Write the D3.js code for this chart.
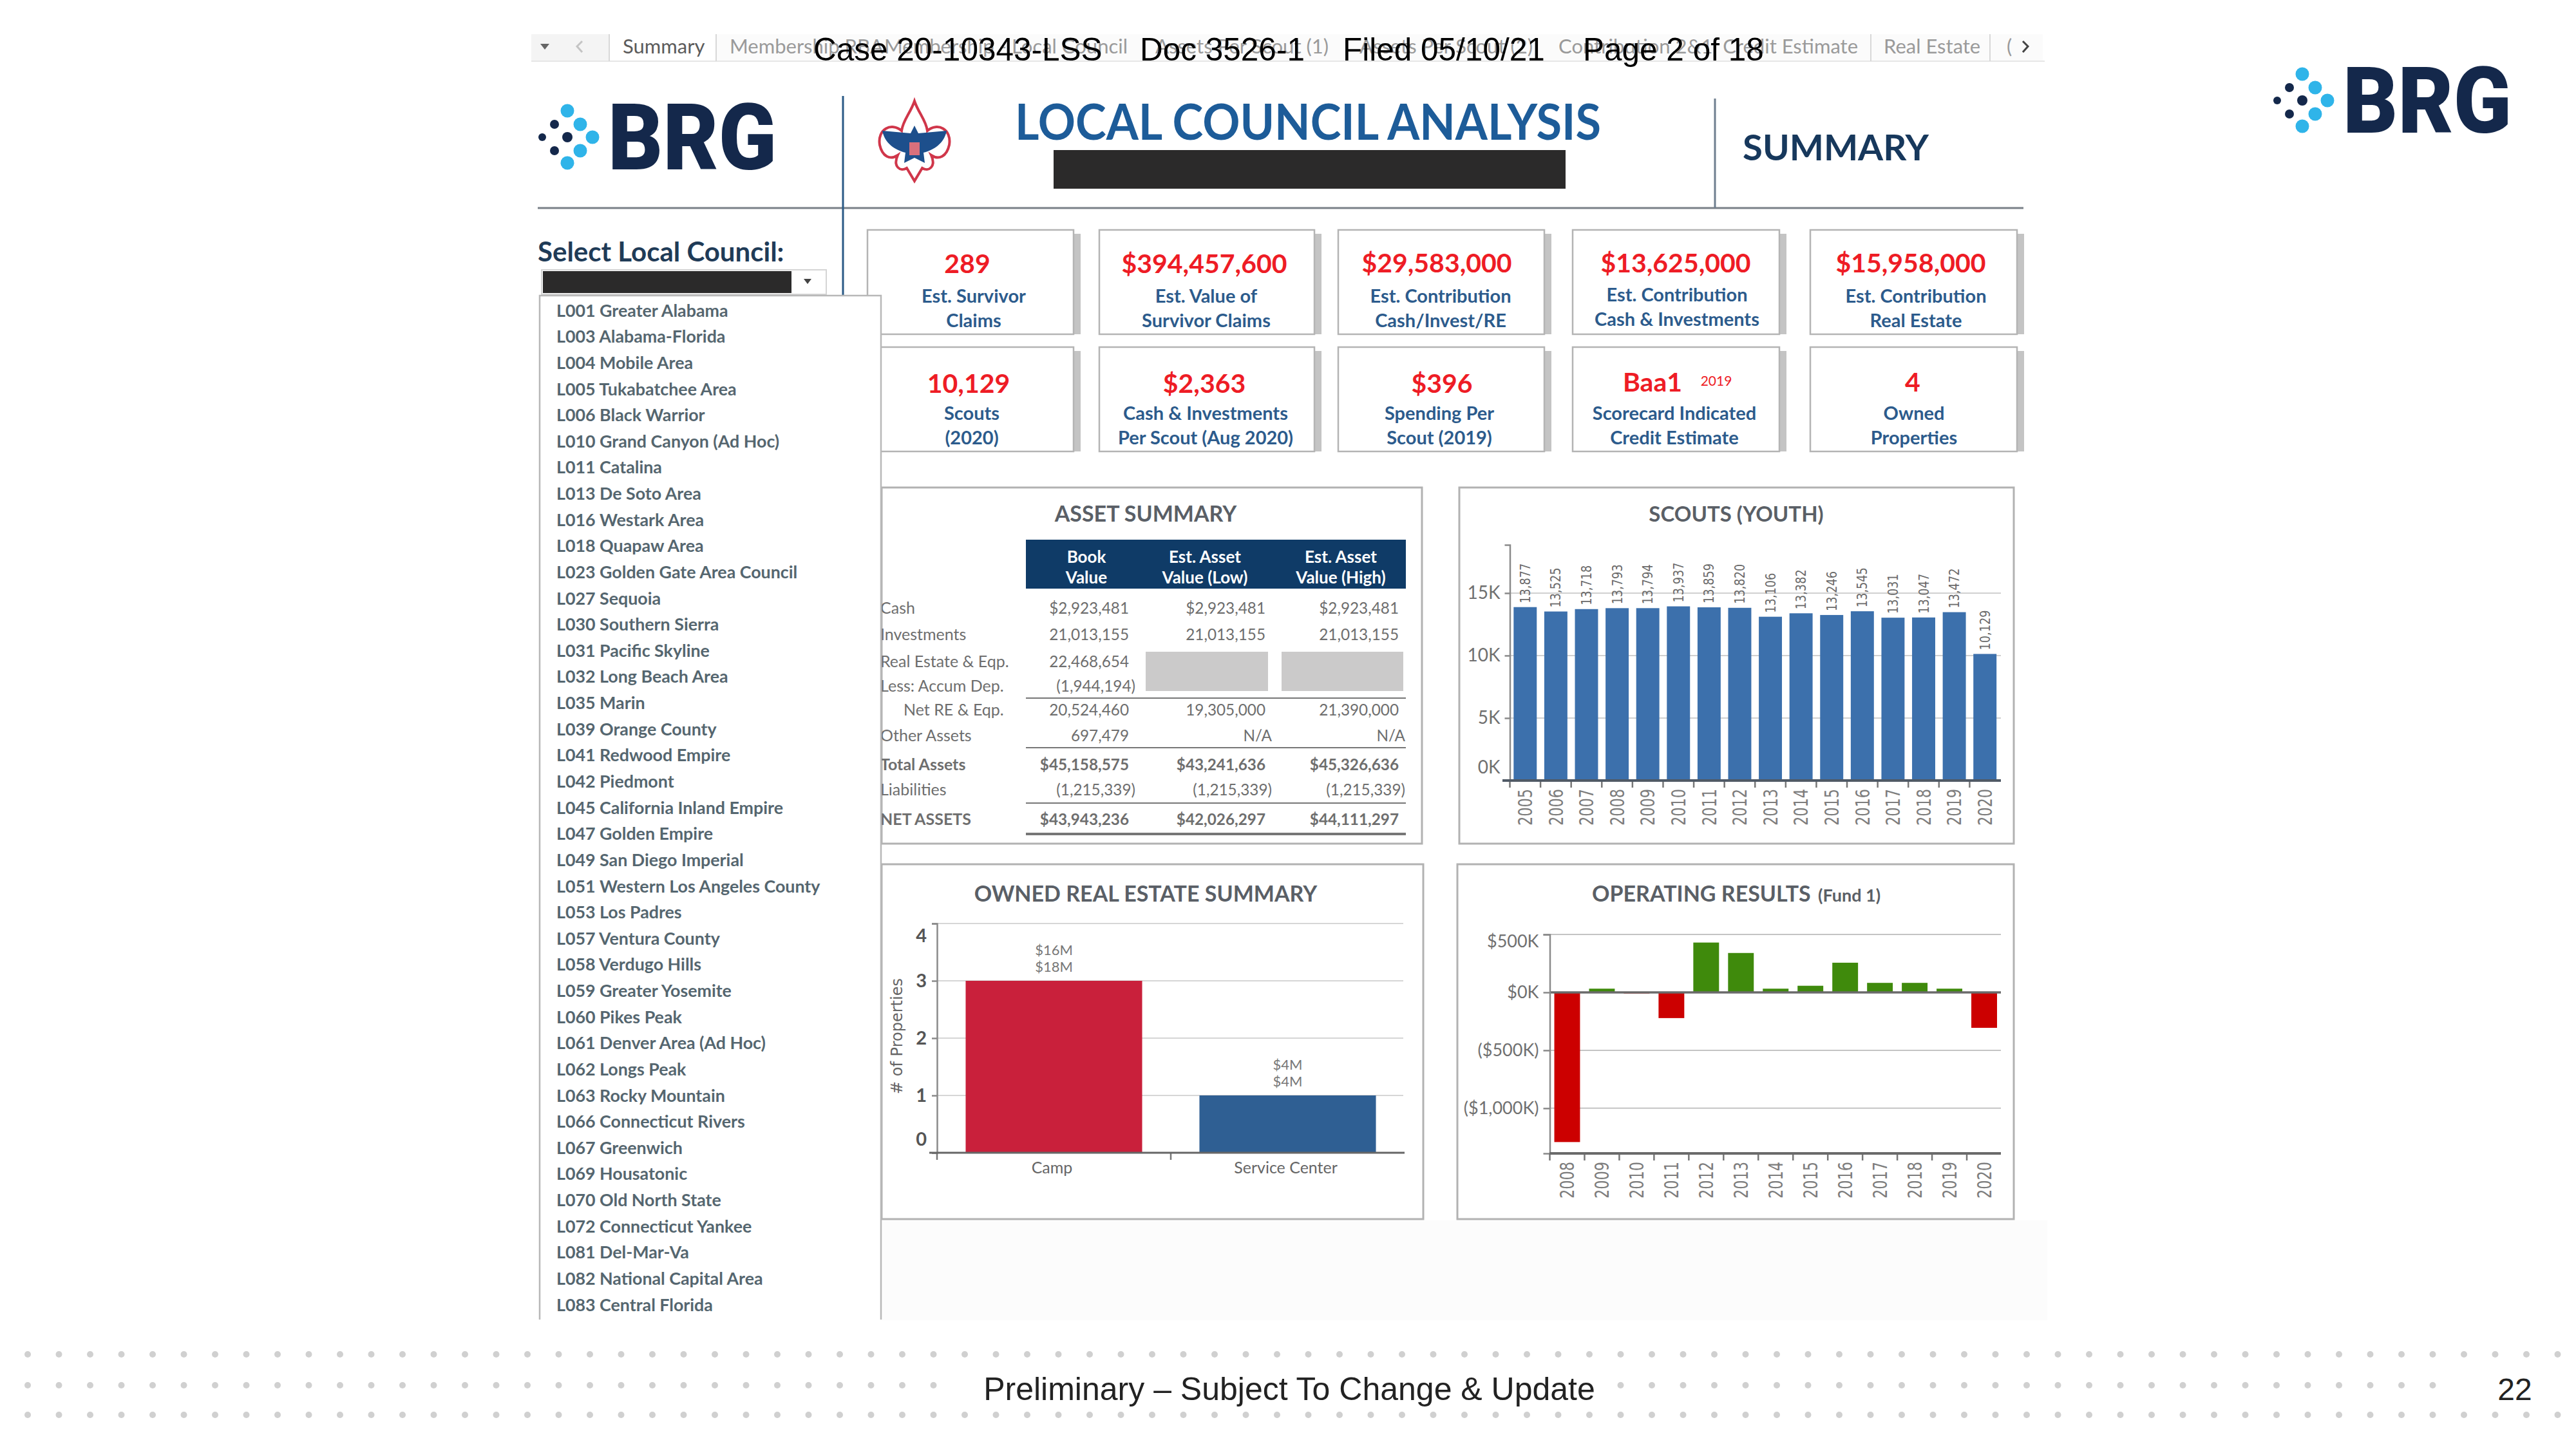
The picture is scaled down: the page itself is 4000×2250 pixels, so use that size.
<!DOCTYPE html>
<html>
<head>
<meta charset="utf-8">
<script src="https://cdn.jsdelivr.net/npm/d3@7"></script>
<style>
  html, body { margin: 0; padding: 0; background: #fff; }
  svg { display: block; }
  text { font-family: Lato, "Open Sans", sans-serif; }
</style>
</head>
<body>
<script>
// ---- data ----
var councils = ["L001 Greater Alabama", "L003 Alabama-Florida", "L004 Mobile Area", "L005 Tukabatchee Area",
  "L006 Black Warrior", "L010 Grand Canyon (Ad Hoc)", "L011 Catalina", "L013 De Soto Area", "L016 Westark Area",
  "L018 Quapaw Area", "L023 Golden Gate Area Council", "L027 Sequoia", "L030 Southern Sierra", "L031 Pacific Skyline",
  "L032 Long Beach Area", "L035 Marin", "L039 Orange County", "L041 Redwood Empire", "L042 Piedmont",
  "L045 California Inland Empire", "L047 Golden Empire", "L049 San Diego Imperial", "L051 Western Los Angeles County",
  "L053 Los Padres", "L057 Ventura County", "L058 Verdugo Hills", "L059 Greater Yosemite", "L060 Pikes Peak",
  "L061 Denver Area (Ad Hoc)", "L062 Longs Peak", "L063 Rocky Mountain", "L066 Connecticut Rivers", "L067 Greenwich",
  "L069 Housatonic", "L070 Old North State", "L072 Connecticut Yankee", "L081 Del-Mar-Va", "L082 National Capital Area",
  "L083 Central Florida"];

var kpiValues = ["289", "$394,457,600", "$29,583,000", "$13,625,000", "$15,958,000",
  "10,129", "$2,363", "$396", "Baa1", "4"];
var kpiLine1 = ["Est. Survivor", "Est. Value of", "Est. Contribution", "Est. Contribution", "Est. Contribution",
  "Scouts", "Cash & Investments", "Spending Per", "Scorecard Indicated", "Owned"];
var kpiLine2 = ["Claims", "Survivor Claims", "Cash/Invest/RE", "Cash & Investments", "Real Estate",
  "(2020)", "Per Scout (Aug 2020)", "Scout (2019)", "Credit Estimate", "Properties"];

var assetLabels = ["Cash", "Investments", "Real Estate & Eqp.", "Less: Accum Dep.", "Net RE & Eqp.",
  "Other Assets", "Total Assets", "Liabilities", "NET ASSETS"];
var assetBook = ["$2,923,481", "21,013,155", "22,468,654", "(1,944,194)", "20,524,460", "697,479",
  "$45,158,575", "(1,215,339)", "$43,943,236"];
var assetLow = ["$2,923,481", "21,013,155", "", "", "19,305,000", "N/A", "$43,241,636", "(1,215,339)", "$42,026,297"];
var assetHigh = ["$2,923,481", "21,013,155", "", "", "21,390,000", "N/A", "$45,326,636", "(1,215,339)", "$44,111,297"];

var scoutYears = ["2005", "2006", "2007", "2008", "2009", "2010", "2011", "2012", "2013", "2014", "2015", "2016",
  "2017", "2018", "2019", "2020"];
var scoutValues = [13877, 13525, 13718, 13793, 13794, 13937, 13859, 13820, 13106, 13382, 13246, 13545, 13031,
  13047, 13472, 10129];
var scoutTicks = [0, 5000, 10000, 15000];

var propertyTypes = ["Camp", "Service Center"];
var propertyCounts = [3, 1];
var propertyLow = ["$16M", "$4M"];
var propertyHigh = ["$18M", "$4M"];
var propertyTicks = [0, 1, 2, 3, 4];

var opYears = ["2008", "2009", "2010", "2011", "2012", "2013", "2014", "2015", "2016", "2017", "2018", "2019", "2020"];
var opValues = [-1292, 32, -10, -222, 430, 340, 32, 57, 256, 82, 82, 32, -306];
var opTicks = [-1000, -500, 0, 500];

// ---- colours ----
var red = "#ee1c25", labelBlue = "#2c5b8c", navy = "#14284b", cyan = "#2fb4e9", greyText = "#6e6e6e",
    titleGrey = "#5a5f66", panelLine = "#b2b2b2";

var svg = d3.select("body").append("svg")
  .attr("width", 4000)
  .attr("height", 2250)
  .attr("viewBox", "0 0 4000 2250");

svg.append("rect").attr("width", 4000).attr("height", 2250).attr("fill", "#fff");

function label(g, x, y, str, size, color, weight, anchor) {
  return g.append("text")
    .attr("x", x).attr("y", y)
    .attr("font-size", size)
    .attr("fill", color)
    .attr("font-weight", weight || 400)
    .attr("text-anchor", anchor || "middle")
    .text(str);
}

// ---- footer dot rows ----
var footerDots = d3.range(43, 3985, 48.5);
[2103, 2151, 2197].forEach(function(y) {
  svg.append("g").selectAll("circle").data(footerDots).join("circle")
    .attr("cx", function(d) { return d; })
    .attr("cy", y)
    .attr("r", 5)
    .attr("fill", "#d0d0d0");
});
svg.append("rect").attr("x", 1480).attr("y", 2125).attr("width", 1010).attr("height", 60).attr("fill", "#fff");
svg.append("rect").attr("x", 3815).attr("y", 2125).attr("width", 185).attr("height", 60).attr("fill", "#fff");
label(svg, 2002, 2174, "Preliminary \u2013 Subject To Change & Update", 50, "#222", 400)
  .style("font-family", "'Liberation Sans'");
label(svg, 3905, 2174, "22", 48, "#222", 400).style("font-family", "'Liberation Sans'");

// ---- logos ----
function logo(dx, dy) {
  var g = svg.append("g").attr("transform", "translate(" + dx + "," + dy + ")");
  var dots = [[0, 0, 10.5, cyan], [20, 21, 10.5, cyan], [39, 41, 10.5, cyan], [20, 62, 10.5, cyan], [0, 81, 10.5, cyan],
    [-20, 21, 7, navy], [0, 41, 8, navy], [-20, 62, 7, navy], [-39, 41, 6, navy]];
  g.selectAll("circle").data(dots).join("circle")
    .attr("cx", function(d) { return d[0]; })
    .attr("cy", function(d) { return d[1]; })
    .attr("r", function(d) { return d[2]; })
    .attr("fill", function(d) { return d[3]; });
  g.append("text").attr("x", 63).attr("y", 91)
    .attr("font-size", 142).attr("font-weight", 900)
    .attr("fill", navy)
    .attr("textLength", 262).attr("lengthAdjust", "spacingAndGlyphs")
    .style("font-family", "Roboto")
    .text("BRG");
}
logo(3575, 115);
logo(881, 172);

// ---- tab strip ----
var tabs = svg.append("g");
tabs.append("rect").attr("x", 825).attr("y", 53).attr("width", 120).attr("height", 42).attr("fill", "#f4f4f4");
tabs.append("rect").attr("x", 1112).attr("y", 53).attr("width", 2060).attr("height", 42).attr("fill", "#fbfbfb");
tabs.append("line").attr("x1", 825).attr("x2", 3175).attr("y1", 95).attr("y2", 95).attr("stroke", "#e6e6e6").attr("stroke-width", 2);
[946, 1112, 2905, 3090].forEach(function(x) {
  tabs.append("line").attr("x1", x).attr("x2", x).attr("y1", 53).attr("y2", 95).attr("stroke", "#d8d8d8").attr("stroke-width", 2);
});
label(tabs, 967, 83, "Summary", 31, "#5c5c5c", 400, "start");
label(tabs, 1133, 83, "Membership RBA", 31, "#9a9a9a", 400, "start");
label(tabs, 1751, 83, "Membership - Local Council", 31, "#9a9a9a", 400, "end");
label(tabs, 2063, 83, "Assets Per Scout (1)", 31, "#9a9a9a", 400, "end");
label(tabs, 2380, 83, "Assets Per Scout (2)", 31, "#9a9a9a", 400, "end");
label(tabs, 2420, 83, "Contribution 2&1", 31, "#9a9a9a", 400, "start");
label(tabs, 2885, 83, "Credit Estimate", 31, "#9a9a9a", 400, "end");
label(tabs, 2925, 83, "Real Estate", 31, "#9a9a9a", 400, "start");
label(tabs, 3116, 83, "(", 31, "#9a9a9a", 400, "start");
tabs.append("path").attr("d", "M839,68 L853,68 L846,77 Z").attr("fill", "#666");
tabs.append("path").attr("d", "M904,64 L896,72 L904,81").attr("fill", "none").attr("stroke", "#c4c4c4").attr("stroke-width", 3);
tabs.append("path").attr("d", "M3141,64 L3149,72 L3141,81").attr("fill", "none").attr("stroke", "#444").attr("stroke-width", 3);

// ---- court stamp across the top ----
var stamp = ["Case 20-10343-LSS", "Doc 3526-1", "Filed 05/10/21", "Page 2 of 18"];
var stampX = [1263, 1770, 2085, 2458];
svg.append("g").selectAll("text").data(stamp).join("text")
  .attr("x", function(d, i) { return stampX[i]; })
  .attr("y", 94)
  .attr("font-size", 49.5)
  .attr("fill", "#000")
  .style("font-family", "'Liberation Sans'")
  .text(function(d) { return d; });

// ---- header ----
svg.append("line").attr("x1", 835).attr("x2", 3142).attr("y1", 323).attr("y2", 323).attr("stroke", "#7a8088").attr("stroke-width", 3);
svg.append("line").attr("x1", 1309).attr("x2", 1309).attr("y1", 149).attr("y2", 460).attr("stroke", "#2b5a86").attr("stroke-width", 3);
svg.append("line").attr("x1", 2663).attr("x2", 2663).attr("y1", 153).attr("y2", 323).attr("stroke", "#6f7f8f").attr("stroke-width", 3);

svg.append("text").attr("x", 1576).attr("y", 217)
  .attr("font-size", 76).attr("font-weight", 700).attr("fill", "#1d5c99")
  .attr("textLength", 910).attr("lengthAdjust", "spacingAndGlyphs")
  .text("LOCAL COUNCIL ANALYSIS");
svg.append("rect").attr("x", 1636).attr("y", 233).attr("width", 795).attr("height", 60).attr("fill", "#2b2a2a");
svg.append("text").attr("x", 2706).attr("y", 249)
  .attr("font-size", 56).attr("font-weight", 700).attr("fill", "#17385c")
  .attr("textLength", 289).attr("lengthAdjust", "spacingAndGlyphs")
  .text("SUMMARY");

// scout emblem, simplified
var emblem = svg.append("g").attr("transform", "translate(1420,219)");
emblem.append("path")
  .attr("d", "M0,-62 C-6,-44 -18,-32 -20,-16 C-36,-30 -58,-18 -54,6 C-50,24 -38,30 -26,22 C-34,40 -22,48 -12,42 L0,62 L12,42 C22,48 34,40 26,22 C38,30 50,24 54,6 C58,-18 36,-30 20,-16 C18,-32 6,-44 0,-62 Z")
  .attr("fill", "#fff").attr("stroke", "#d0364a").attr("stroke-width", 4);
emblem.append("path")
  .attr("d", "M0,-24 L-6,-12 L-50,-16 C-46,4 -30,14 -14,18 L-16,34 L0,26 L16,34 L14,18 C30,14 46,4 50,-16 L6,-12 Z")
  .attr("fill", "#1d4f8c");
emblem.append("rect").attr("x", -8).attr("y", 2).attr("width", 16).attr("height", 20).attr("fill", "#d9707c");

// ---- KPI cards ----
var cardX = [1347, 1707, 2078, 2442, 2811, 1347, 1707, 2078, 2442, 2811];
var cardW = [320, 334, 320, 321, 321, 320, 334, 320, 321, 321];
var cardY = [357, 357, 357, 357, 357, 539, 539, 539, 539, 539];
var cardH = 162;
var valueX = [1502, 1870, 2231, 2602, 2967, 1504, 1870, 2239, 2566, 2970];
var textX = [1512, 1873, 2237, 2604, 2975, 1509, 1872, 2235, 2600, 2972];
var valueBase = [424, 424, 423, 423, 423, 610, 610, 610, 608, 608];
var line1Y = [470, 470, 470, 468, 470, 652, 652, 652, 652, 652];
var line2Y = [508, 508, 508, 506, 508, 690, 690, 690, 690, 690];

var cards = svg.append("g").selectAll("g").data(kpiValues).join("g");
cards.append("rect")
  .attr("x", function(d, i) { return cardX[i] + cardW[i]; })
  .attr("y", function(d, i) { return cardY[i] + 6; })
  .attr("width", 11).attr("height", cardH - 6).attr("fill", "#c4c4c4");
cards.append("rect")
  .attr("x", function(d, i) { return cardX[i]; })
  .attr("y", function(d, i) { return cardY[i]; })
  .attr("width", function(d, i) { return cardW[i]; })
  .attr("height", cardH)
  .attr("fill", "#fff").attr("stroke", "#b4b4b4").attr("stroke-width", 2.5);
cards.append("text")
  .attr("x", function(d, i) { return valueX[i]; })
  .attr("y", function(d, i) { return valueBase[i]; })
  .attr("text-anchor", "middle").attr("font-size", 41).attr("font-weight", 700).attr("fill", red)
  .text(function(d) { return d; });
cards.append("text")
  .attr("x", function(d, i) { return textX[i]; })
  .attr("y", function(d, i) { return line1Y[i]; })
  .attr("text-anchor", "middle").attr("font-size", 29).attr("font-weight", 700).attr("fill", labelBlue)
  .text(function(d, i) { return kpiLine1[i]; });
cards.append("text")
  .attr("x", function(d, i) { return textX[i]; })
  .attr("y", function(d, i) { return line2Y[i]; })
  .attr("text-anchor", "middle").attr("font-size", 29).attr("font-weight", 700).attr("fill", labelBlue)
  .text(function(d, i) { return kpiLine2[i]; });
label(svg, 2665, 599, "2019", 21, red, 400);

// ---- panels ----
function panel(x, y, w, h) {
  svg.append("rect").attr("x", x).attr("y", y).attr("width", w).attr("height", h)
    .attr("fill", "#fff").attr("stroke", panelLine).attr("stroke-width", 3);
}
svg.append("rect").attr("x", 1369).attr("y", 1895).attr("width", 1810).attr("height", 155).attr("fill", "#fcfcfc");
panel(1369, 757, 839, 553);
panel(2266, 757, 861, 553);
panel(1369, 1342, 841, 551);
panel(2263, 1342, 864, 551);

// ---- asset summary table ----
var assetG = svg.append("g");
label(assetG, 1779, 810, "ASSET SUMMARY", 34, titleGrey, 700);
assetG.append("rect").attr("x", 1593).attr("y", 838).attr("width", 590).attr("height", 76).attr("fill", "#0f3b67");
var headLine1 = ["Book", "Est. Asset", "Est. Asset"], headLine2 = ["Value", "Value (Low)", "Value (High)"];
var headX = [1687, 1871, 2082];
headLine1.forEach(function(h, i) {
  label(assetG, headX[i], 874, h, 26, "#fff", 700);
  label(assetG, headX[i], 906, headLine2[i], 26, "#fff", 700);
});
assetG.append("rect").attr("x", 1779).attr("y", 1012).attr("width", 190).attr("height", 61).attr("fill", "#cbcaca");
assetG.append("rect").attr("x", 1990).attr("y", 1012).attr("width", 189).attr("height", 61).attr("fill", "#cbcaca");

var assetRowY = [953, 994, 1036, 1074, 1111, 1151, 1196, 1235, 1281];
var assetColX = [1753, 1965, 2172];
var boldRows = ["Total Assets", "NET ASSETS"];
assetLabels.forEach(function(name, i) {
  var w = boldRows.indexOf(name) >= 0 ? 700 : 400;
  label(assetG, name == "Net RE & Eqp." ? 1403 : 1367, assetRowY[i], name, 25, greyText, w, "start");
  [assetBook, assetLow, assetHigh].forEach(function(col, j) {
    var v = col[i];
    var nudge = v.slice(-1) == ")" ? 10 : (v == "N/A" ? 10 : 0);
    label(assetG, assetColX[j] + nudge, assetRowY[i], v, 24.3, greyText, w, "end");
  });
});
[[1084, 2], [1161, 2], [1247, 2], [1295, 4]].forEach(function(l) {
  assetG.append("line").attr("x1", 1593).attr("x2", 2183).attr("y1", l[0]).attr("y2", l[0])
    .attr("stroke", "#777").attr("stroke-width", l[1]);
});

// ---- axis helpers ----
function styleAxis(g, size, color, weight) {
  g.selectAll(".domain").attr("stroke", "#8a8a8a").attr("stroke-width", 2.5);
  g.selectAll(".tick line").attr("stroke", "#8a8a8a").attr("stroke-width", 2.5);
  g.selectAll("text").attr("font-size", size).attr("fill", color).attr("font-weight", weight || 400)
    .style("font-family", "Lato");
}
function verticalYears(g) {
  g.selectAll(".domain").remove();
  g.selectAll(".tick line").remove();
  g.selectAll("text")
    .attr("x", -13).attr("y", 0).attr("dy", ".36em")
    .attr("transform", "rotate(-90)")
    .attr("text-anchor", "end")
    .attr("font-size", 30)
    .attr("fill", "#7d7d7d")
    .attr("textLength", 57).attr("lengthAdjust", "spacingAndGlyphs")
    .style("font-family", "'DejaVu Sans'");
}
function bandTicks(parent, scale, y) {
  var edges = scale.domain().map(function(d) { return scale(d) - scale.step() * scale.paddingInner() / 2; });
  parent.append("g").selectAll("line").data(edges).join("line")
    .attr("x1", function(d) { return d; }).attr("x2", function(d) { return d; })
    .attr("y1", y).attr("y2", y + 11)
    .attr("stroke", "#777").attr("stroke-width", 2.5);
}

// ---- scouts chart ----
var scoutG = svg.append("g");
label(scoutG, 2696, 810, "SCOUTS (YOUTH)", 33, titleGrey, 700);
var scoutX = d3.scaleBand().domain(scoutYears).range([2344.5, 3106]).paddingInner(0.245).paddingOuter(0.1225);
var scoutY = d3.scaleLinear().domain([0, 18860]).range([1212, 846]);
scoutTicks.slice(1).forEach(function(t) {
  scoutG.append("line").attr("x1", 2344).attr("x2", 3107).attr("y1", scoutY(t)).attr("y2", scoutY(t))
    .attr("stroke", "#d0d0d0").attr("stroke-width", 2);
});
scoutG.selectAll("rect.bar").data(scoutValues).join("rect")
  .attr("class", "bar")
  .attr("x", function(d, i) { return scoutX(scoutYears[i]); })
  .attr("y", function(d) { return scoutY(d); })
  .attr("width", scoutX.bandwidth())
  .attr("height", function(d) { return scoutY(0) - scoutY(d); })
  .attr("fill", "#3c70ac");
scoutG.selectAll("text.val").data(scoutValues).join("text")
  .attr("class", "val")
  .attr("transform", function(d, i) {
    return "translate(" + (scoutX(scoutYears[i]) + scoutX.bandwidth() / 2) + "," + (scoutY(d) - 6) + ") rotate(-90)";
  })
  .attr("dy", ".36em")
  .attr("font-size", 21)
  .attr("fill", "#6a6a6a")
  .attr("textLength", 62).attr("lengthAdjust", "spacingAndGlyphs")
  .style("font-family", "'DejaVu Sans'")
  .text(function(d) { return d3.format(",")(d); });
var scoutAxisY = scoutG.append("g").attr("transform", "translate(2344.5,0)")
  .call(d3.axisLeft(scoutY).tickValues(scoutTicks).tickSize(8).tickPadding(7).tickFormat(function(d) { return d / 1000 + "K"; }));
styleAxis(scoutAxisY, 28, "#707070");
scoutAxisY.selectAll("text").filter(function(d) { return d == 0; }).attr("y", -20);
scoutAxisY.selectAll(".tick line").filter(function(d) { return d == 0; }).remove();
var scoutAxisX = scoutG.append("g").attr("transform", "translate(0,1212)")
  .call(d3.axisBottom(scoutX).tickSize(0));
verticalYears(scoutAxisX);
bandTicks(scoutG, scoutX, 1212);
scoutG.append("line").attr("x1", 2333).attr("x2", 3107).attr("y1", 1212).attr("y2", 1212)
  .attr("stroke", "#505a66").attr("stroke-width", 4);

// ---- owned real estate chart ----
var propG = svg.append("g");
label(propG, 1779, 1400, "OWNED REAL ESTATE SUMMARY", 34, titleGrey, 700);
var propX = d3.scaleBand().domain(propertyTypes).range([1455, 2181]).paddingInner(0.245).paddingOuter(0.1225);
var propY = d3.scaleLinear().domain([0, 4]).range([1790, 1434]);
propertyTicks.slice(1).forEach(function(t) {
  propG.append("line").attr("x1", 1455).attr("x2", 2179).attr("y1", propY(t)).attr("y2", propY(t))
    .attr("stroke", "#d6d6d6").attr("stroke-width", 2);
});
var propFill = ["#c9203b", "#2f5f93"];
propG.selectAll("rect.bar").data(propertyCounts).join("rect")
  .attr("class", "bar")
  .attr("x", function(d, i) { return propX(propertyTypes[i]); })
  .attr("y", function(d) { return propY(d); })
  .attr("width", propX.bandwidth())
  .attr("height", function(d) { return propY(0) - propY(d); })
  .attr("fill", function(d, i) { return propFill[i]; });
propertyCounts.forEach(function(d, i) {
  var cx = propX(propertyTypes[i]) + propX.bandwidth() / 2;
  label(propG, cx, propY(d) - 40, propertyLow[i], 22, "#777");
  label(propG, cx, propY(d) - 14, propertyHigh[i], 22, "#777");
});
var propAxisY = propG.append("g").attr("transform", "translate(1455,0)")
  .call(d3.axisLeft(propY).tickValues(propertyTicks).tickSize(8).tickPadding(8).tickFormat(d3.format("d")));
styleAxis(propAxisY, 29, "#555", 700);
propAxisY.selectAll("text").filter(function(d) { return d == 0; }).attr("y", -21);
propAxisY.selectAll("text").filter(function(d) { return d == 4; }).attr("y", 19);
var propAxisX = propG.append("g").attr("transform", "translate(-3,1790)")
  .call(d3.axisBottom(propX).tickSize(0).tickPadding(14));
propAxisX.selectAll(".domain").remove();
propAxisX.selectAll("text").attr("font-size", 25).attr("fill", "#666").style("font-family", "Lato");
bandTicks(propG, propX, 1790);
propG.append("line").attr("x1", 1443).attr("x2", 2181).attr("y1", 1790).attr("y2", 1790)
  .attr("stroke", "#666").attr("stroke-width", 3);
propG.append("text")
  .attr("transform", "translate(1392,1609) rotate(-90)")
  .attr("dy", ".36em")
  .attr("text-anchor", "middle")
  .attr("font-size", 24)
  .attr("fill", "#666")
  .attr("textLength", 180).attr("lengthAdjust", "spacingAndGlyphs")
  .style("font-family", "'DejaVu Sans'")
  .text("# of Properties");

// ---- operating results chart ----
var opG = svg.append("g");
label(opG, 2472, 1400, "OPERATING RESULTS", 34, titleGrey, 700, "start");
label(opG, 2823, 1400, "(Fund 1)", 27, titleGrey, 700, "start");
var opX = d3.scaleBand().domain(opYears).range([2406.5, 3108]).paddingInner(0.26).paddingOuter(0.13);
var opY = d3.scaleLinear().domain([-1390, 500]).range([1791, 1451]);
opTicks.filter(function(t) { return t != 0; }).forEach(function(t) {
  opG.append("line").attr("x1", 2406).attr("x2", 3107).attr("y1", opY(t)).attr("y2", opY(t))
    .attr("stroke", "#c4c4c4").attr("stroke-width", 2);
});
opG.selectAll("rect.bar").data(opValues).join("rect")
  .attr("class", "bar")
  .attr("x", function(d, i) { return opX(opYears[i]); })
  .attr("y", function(d) { return opY(Math.max(d, 0)); })
  .attr("width", opX.bandwidth())
  .attr("height", function(d) { return Math.abs(opY(d) - opY(0)); })
  .attr("fill", function(d) { return d < 0 ? "#cc0000" : "#3f8a0c"; });
opG.append("line").attr("x1", 2406).attr("x2", 3107).attr("y1", opY(0)).attr("y2", opY(0))
  .attr("stroke", "#6a6a6a").attr("stroke-width", 3.5);
var opAxisY = opG.append("g").attr("transform", "translate(2406.5,0)")
  .call(d3.axisLeft(opY).tickValues(opTicks).tickSize(10).tickPadding(7)
    .tickFormat(function(d) { return d < 0 ? "($" + d3.format(",")(-d) + "K)" : "$" + d + "K"; }));
styleAxis(opAxisY, 27, "#707070");
opAxisY.selectAll("text").filter(function(d) { return d == 500; }).attr("y", 11);
var opAxisX = opG.append("g").attr("transform", "translate(0,1791)")
  .call(d3.axisBottom(opX).tickSize(0));
verticalYears(opAxisX);
bandTicks(opG, opX, 1791);
opG.append("line").attr("x1", 2406).attr("x2", 3107).attr("y1", 1791).attr("y2", 1791)
  .attr("stroke", "#6a6a6a").attr("stroke-width", 4);

// ---- council selector goes on top, it covers the left edge of the cards and table ----
var sel = svg.append("g");
label(sel, 835, 406, "Select Local Council:", 42, "#1f3b57", 700, "start");
sel.append("rect").attr("x", 841).attr("y", 419).attr("width", 442).attr("height", 38).attr("fill", "#fff").attr("stroke", "#d5d5d5").attr("stroke-width", 2);
sel.append("rect").attr("x", 843).attr("y", 421).attr("width", 386).attr("height", 34).attr("fill", "#2b2a2a");
sel.append("path").attr("d", "M1248,433 L1260,433 L1254,441 Z").attr("fill", "#444");
sel.append("rect").attr("x", 839).attr("y", 459).attr("width", 530).attr("height", 1591).attr("fill", "#fff");
sel.append("path").attr("d", "M838,2049 L838,459 L1368,459 L1368,2049").attr("fill", "none").attr("stroke", "#b8b8b8").attr("stroke-width", 2.5);

var listY = d3.scalePoint().domain(councils).range([482, 2026]);
sel.selectAll("text.council").data(councils).join("text")
  .attr("class", "council")
  .attr("x", 864)
  .attr("y", function(d) { return listY(d); })
  .attr("dy", ".36em")
  .attr("font-size", 26.8)
  .attr("font-weight", 700)
  .attr("fill", "#55666f")
  .text(function(d) { return d; });
</script>
</body>
</html>
